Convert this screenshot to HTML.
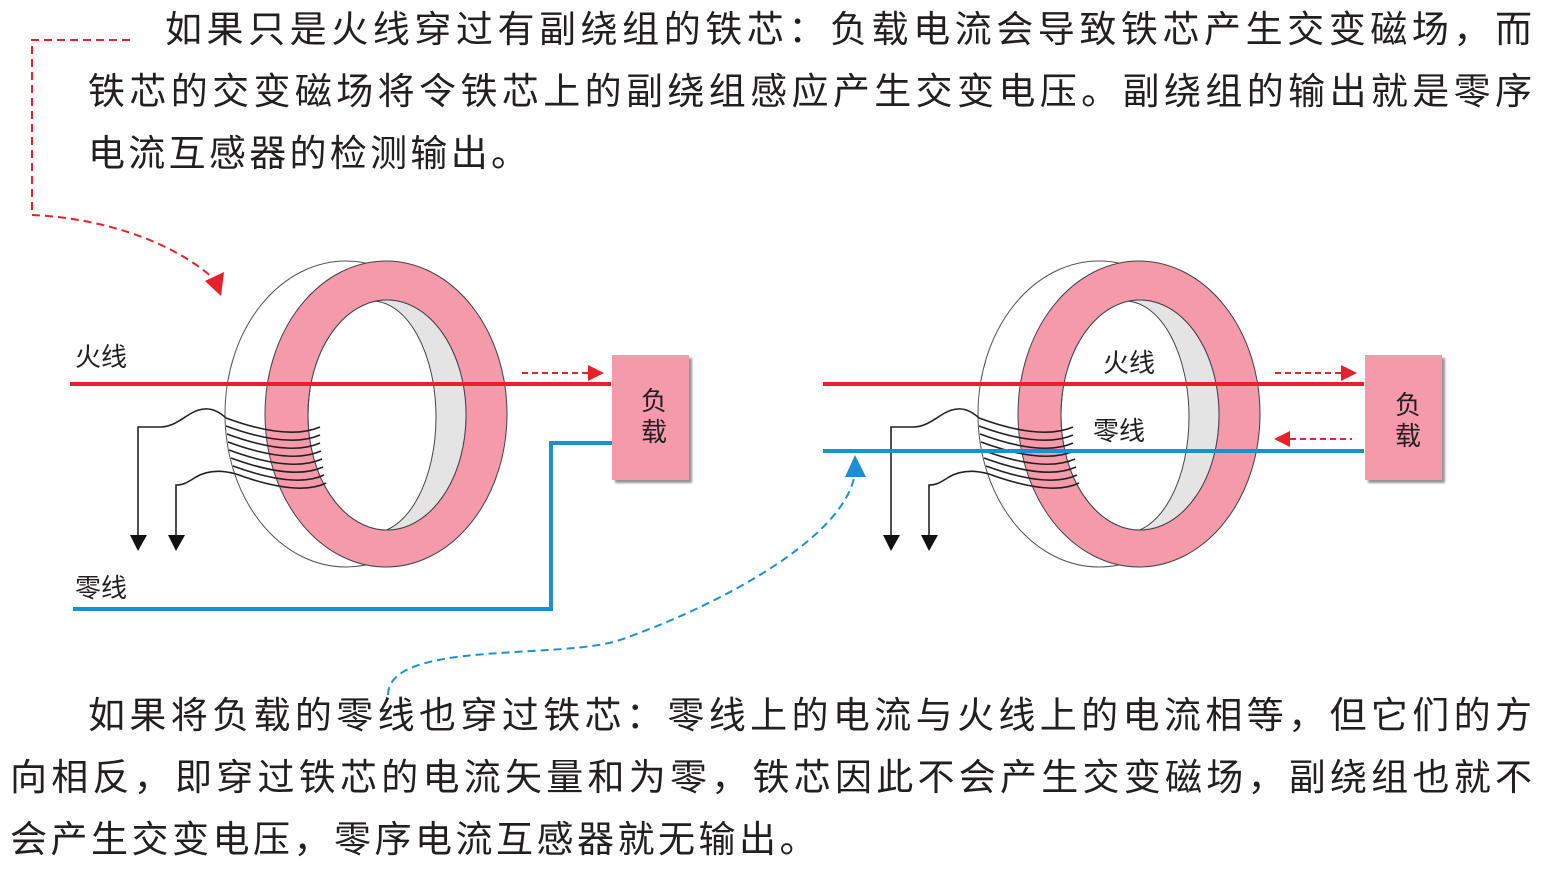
<!DOCTYPE html>
<html><head><meta charset="utf-8"><style>
html,body{margin:0;padding:0;background:#fff;}
body{width:1541px;height:879px;position:relative;overflow:hidden;font-family:"Liberation Sans","Noto Sans CJK SC",sans-serif;color:#231f20;}
.l{position:absolute;font-size:37px;line-height:40px;white-space:nowrap;}
.j{text-align:justify;text-align-last:justify;white-space:normal;}
svg{position:absolute;left:0;top:0;}
</style></head><body>
<svg width="1541" height="879" viewBox="0 0 1541 879">
<defs>
<clipPath id="hl"><ellipse cx="387" cy="415" rx="79" ry="115"/></clipPath>
<filter id="sh"><feDropShadow dx="3" dy="3" stdDeviation="1" flood-color="#777" flood-opacity="0.8"/></filter>
</defs>
<path d="M130,40 L32,40 L32,215 C100,218 170,240 213,278" fill="none" stroke="#e8202a" stroke-width="2" stroke-dasharray="8,5"/>
<polygon points="205,281 224,272 221,296" fill="#e8202a"/>
<path d="M388,695 C388,640 560,660 620,640 C720,605 840,540 854,478" fill="none" stroke="#1b8fd6" stroke-width="2" stroke-dasharray="8,5"/>
<polygon points="855,455 845,477 866,477" fill="#1b8fd6"/>

<g id="L">
<ellipse cx="346" cy="414" rx="121" ry="153" fill="#fff" stroke="#555" stroke-width="1"/>
<path fill-rule="evenodd" fill="#f49aaa" stroke="#444" stroke-width="1" d="M265,414 a121,153 0 1,0 242,0 a121,153 0 1,0 -242,0 Z M308,415 a79,115 0 1,0 158,0 a79,115 0 1,0 -158,0 Z"/>
<ellipse cx="387" cy="415" rx="79" ry="115" fill="#e4e4e4"/>
<ellipse cx="372" cy="417" rx="64" ry="116" fill="#fff" stroke="#444" stroke-width="1" clip-path="url(#hl)"/>
<ellipse cx="387" cy="415" rx="79" ry="115" fill="none" stroke="#444" stroke-width="1"/>
<g fill="none" stroke="#222" stroke-width="1.6">
<path d="M226,418 C245,425 290,440 320,427"/>
<path d="M226,426 C245,433 290,448 320,435"/>
<path d="M227,434 C246,441 291,456 320,443"/>
<path d="M228,442 C247,449 292,464 321,451"/>
<path d="M229,450 C248,457 293,472 322,459"/>
<path d="M231,458 C250,465 295,480 323,467"/>
<path d="M233,466 C252,473 297,488 324,475"/>
<path d="M236,474 C255,481 300,496 326,483"/>
<path d="M226,418 C212,405 200,408 190,414 C180,420 172,427 160,427 L138,427 L138,537"/>
<path d="M236,474 C222,470 208,470 196,477 C188,482 184,485 176,485 L176,537"/>
</g>
<polygon points="130,535 147,535 138,551" fill="#111"/>
<polygon points="168,535 185,535 176,551" fill="#111"/>
<rect x="612" y="355" width="77" height="125" fill="#f49aaa" filter="url(#sh)"/>
</g>
<use href="#L" transform="translate(753,0)"/>

<line x1="70" y1="384" x2="611" y2="384" stroke="#e8202a" stroke-width="4"/>
<path d="M612,443 L551,443 L551,609 L73,609" fill="none" stroke="#1b8fd6" stroke-width="4"/>
<line x1="522" y1="373" x2="590" y2="373" stroke="#e8202a" stroke-width="2" stroke-dasharray="6,4"/>
<polygon points="604,373 588,365 588,381" fill="#e8202a"/>
<line x1="823" y1="384" x2="1364" y2="384" stroke="#e8202a" stroke-width="4"/>
<line x1="823" y1="451" x2="1364" y2="451" stroke="#1b8fd6" stroke-width="4"/>
<line x1="1275" y1="373" x2="1343" y2="373" stroke="#e8202a" stroke-width="2" stroke-dasharray="6,4"/>
<polygon points="1357,373 1341,365 1341,381" fill="#e8202a"/>
<line x1="1290" y1="439" x2="1352" y2="439" stroke="#e8202a" stroke-width="2" stroke-dasharray="6,4"/>
<polygon points="1274,439 1290,431 1290,447" fill="#e8202a"/>

<g font-family="Liberation Sans, Noto Sans CJK SC, sans-serif" font-size="26" fill="#231f20">
<text x="75" y="366">火线</text>
<text x="75" y="597">零线</text>
<text x="1103" y="372">火线</text>
<text x="1093" y="440">零线</text>
<text x="641" y="410">负</text>
<text x="641" y="441">载</text>
<text x="1395" y="414">负</text>
<text x="1395" y="445">载</text>
</g>
</svg>

<div class="l j" style="left:165px;top:10px;width:1367px;">如果只是火线穿过有副绕组的铁芯：负载电流会导致铁芯产生交变磁场，而</div>
<div class="l j" style="left:88px;top:72px;width:1444px;">铁芯的交变磁场将令铁芯上的副绕组感应产生交变电压。副绕组的输出就是零序</div>
<div class="l" style="left:88px;top:134px;letter-spacing:3.3px;">电流互感器的检测输出。</div>
<div class="l j" style="left:88px;top:696px;width:1444px;">如果将负载的零线也穿过铁芯：零线上的电流与火线上的电流相等，但它们的方</div>
<div class="l j" style="left:10px;top:758px;width:1522px;">向相反，即穿过铁芯的电流矢量和为零，铁芯因此不会产生交变磁场，副绕组也就不</div>
<div class="l" style="left:10px;top:820px;letter-spacing:3.5px;">会产生交变电压，零序电流互感器就无输出。</div>
</body></html>
